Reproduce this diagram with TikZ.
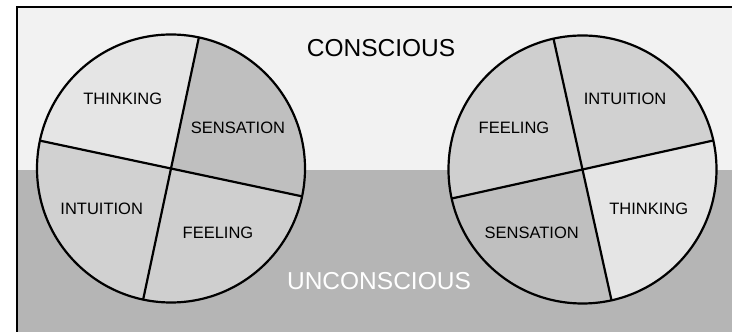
\documentclass[tikz,border=0pt]{standalone}
\usepackage{fontspec}
\setmainfont{Liberation Sans}
\usetikzlibrary{positioning}
\definecolor{paper}{gray}{0.95}
\definecolor{deep}{gray}{0.71}
\definecolor{think}{gray}{0.90}
\definecolor{intu}{gray}{0.82}
\definecolor{feel}{gray}{0.81}
\definecolor{sens}{gray}{0.75}
\tikzset{fn/.style={font=\fontsize{16.5}{18}\selectfont,inner sep=0pt},
  layer/.style={font=\fontsize{24.5}{26}\selectfont,inner sep=0pt},
  rim/.style={line width=2.2pt}}

\begin{document}
\begin{tikzpicture}[x=1pt,y=1pt]
\useasboundingbox (0,0) rectangle (732,332);
\fill[white] (0,0) rectangle (732,332);
\fill[paper] (17,162) rectangle (732,325);
\fill[deep] (17,0) rectangle (732,162);
\draw[line width=1.5pt] (17,0) -- (17,325) -- (732,325);
% left circle
\coordinate (L) at (171,163.5);
\foreach \a/\c in {-12/sens,78/think,168/intu,258/feel}
  \fill[\c] (L) -- ++(\a:134) arc[start angle=\a,delta angle=90,radius=134] -- cycle;
\draw[rim] (L) circle[radius=134];
\draw[rim] (L) ++(78:134) -- ++(258:268);
\draw[rim] (L) ++(168:134) -- ++(348:268);
% right circle
\coordinate (R) at (582.5,162.5);
\foreach \a/\c in {12.5/intu,102.5/feel,192.5/sens,282.5/think}
  \fill[\c] (R) -- ++(\a:134) arc[start angle=\a,delta angle=90,radius=134] -- cycle;
\draw[rim] (R) circle[radius=134];
\draw[rim] (R) ++(102.5:134) -- ++(282.5:268);
\draw[rim] (R) ++(12.5:134) -- ++(192.5:268);
% labels
\node[fn] (l-think) at (122.7,233) {THINKING};
\node[fn] (l-sens) at (238,204) {SENSATION};
\node[fn] (l-intu) at (101.7,123) {INTUITION};
\node[fn] (l-feel) at (218,99) {FEELING};
\node[fn] (r-feel) at (514,204) {FEELING};
\node[fn] (r-intu) at (625,233) {INTUITION};
\node[fn] (r-think) at (648.7,123) {THINKING};
\node[fn] (r-sens) at (531.7,99) {SENSATION};
\node[layer] (cons) at (381,283.5) {CONSCIOUS};
\node[layer,white] (uncons) at (379,51) {UNCONSCIOUS};
\end{tikzpicture}
\end{document}
